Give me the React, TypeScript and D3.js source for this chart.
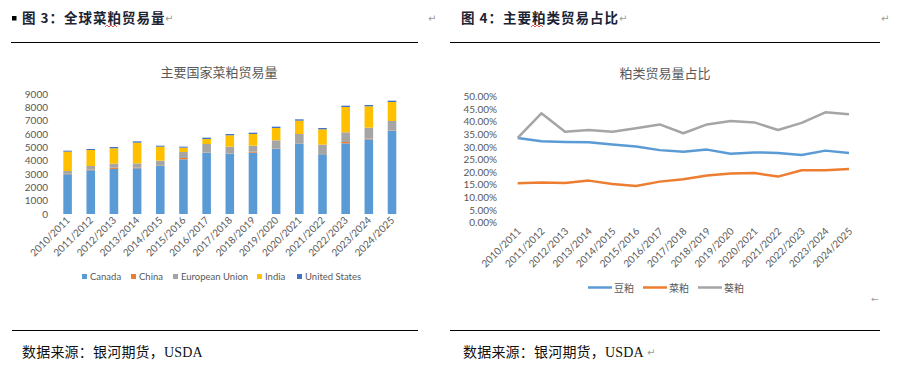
import React from 'react';
import * as d3 from 'd3';

// seasons shared by both charts
const seasons = [
  '2010/2011', '2011/2012', '2012/2013', '2013/2014', '2014/2015',
  '2015/2016', '2016/2017', '2017/2018', '2018/2019', '2019/2020',
  '2020/2021', '2021/2022', '2022/2023', '2023/2024', '2024/2025',
];

// left chart: rapeseed meal trade volume by country (stacked)
const canada = [2980, 3280, 3380, 3430, 3600, 4100, 4600, 4530, 4600, 4880, 5250, 4480, 5300, 5600, 6250];
const china = [30, 50, 100, 50, 20, 100, 20, 20, 75, 20, 20, 20, 100, 50, 20];
const eu = [215, 270, 295, 320, 380, 450, 630, 500, 450, 625, 730, 700, 725, 825, 705];
const india = [1450, 1200, 1150, 1550, 1050, 325, 375, 850, 875, 925, 1000, 1150, 1900, 1600, 1425];
const us = [75, 75, 100, 100, 75, 75, 100, 100, 100, 100, 100, 100, 100, 100, 100];
const countryNames = ['Canada', 'China', 'European Union', 'India', 'United States'];
const countryColors = ['#5B9BD5', '#ED7D31', '#A5A5A5', '#FFC000', '#4472C4'];
const volumeTicks = [0, 1000, 2000, 3000, 4000, 5000, 6000, 7000, 8000, 9000];

// right chart: share of meal trade (%)
const soyMeal = [33.6, 32.3, 32.0, 31.9, 31.0, 30.2, 28.8, 28.2, 29.0, 27.4, 27.9, 27.7, 26.9, 28.6, 27.7];
const rapeMeal = [15.7, 16.0, 15.8, 16.7, 15.4, 14.6, 16.3, 17.2, 18.7, 19.5, 19.7, 18.3, 20.8, 20.8, 21.3];
const sunMeal = [33.7, 43.4, 36.1, 36.8, 36.1, 37.5, 39.0, 35.5, 39.0, 40.4, 39.8, 36.8, 39.6, 43.8, 43.0];
const mealNames = ['豆粕', '菜粕', '葵粕'];
const mealColors = ['#5B9BD5', '#ED7D31', '#A5A5A5'];
const shareTicks = [0, 5, 10, 15, 20, 25, 30, 35, 40, 45, 50];

const axisFont = 'Lato, "Noto Sans", sans-serif';
const cjkFont = '"Noto Sans CJK SC", sans-serif';
const grey = '#595959';

function StackedBars() {
  const x = d3.scaleBand<string>().domain(seasons).range([56, 403.6]).paddingInner(0.63).paddingOuter(0.315);
  const y = d3.scaleLinear().domain([0, 9000]).range([214, 94]);
  const rows = seasons.map((s, i) => ({
    season: s, Canada: canada[i], China: china[i], 'European Union': eu[i], India: india[i], 'United States': us[i],
  }));
  const series = d3.stack<any>().keys(countryNames)(rows);
  const legendX = [82, 131, 173, 257, 297];

  return (
    <g>
      <text x={219} y={77} textAnchor="middle" fontFamily={cjkFont} fontSize={13} fill={grey}>主要国家菜粕贸易量</text>
      {volumeTicks.map(t => (
        <text key={t} x={48} y={y(t) + 3.5} textAnchor="end" fontFamily={axisFont} fontSize={10} fill={grey}>{t}</text>
      ))}
      {series.map((s, si) => (
        <g key={s.key} fill={countryColors[si]}>
          {s.map((d, i) => (
            <rect key={i} x={x(seasons[i])} width={x.bandwidth()} y={y(d[1])} height={Math.max(0, y(d[0]) - y(d[1]))} />
          ))}
        </g>
      ))}
      {seasons.map(s => {
        const cx = (x(s) as number) + x.bandwidth() / 2 + 3;
        return (
          <text key={s} transform={`translate(${cx},${221}) rotate(-45)`} textAnchor="end"
            fontFamily={axisFont} fontSize={10} fill={grey}>{s}</text>
        );
      })}
      {countryNames.map((n, i) => (
        <g key={n}>
          <rect x={legendX[i]} y={274} width={5} height={5} fill={countryColors[i]} />
          <text x={legendX[i] + 8} y={280} fontFamily={axisFont} fontSize={9.5} fill={grey}>{n}</text>
        </g>
      ))}
    </g>
  );
}

function ShareLines() {
  const x = d3.scalePoint<string>().domain(seasons).range([517.7, 849]);
  const y = d3.scaleLinear().domain([0, 50]).range([222.7, 96.7]);
  const line = d3.line<number>().x((_, i) => x(seasons[i]) as number).y(d => y(d));
  const all = [soyMeal, rapeMeal, sunMeal];
  const legendX = [588, 643, 698];

  return (
    <g>
      <text x={665} y={78} textAnchor="middle" fontFamily={cjkFont} fontSize={13} fill={grey}>粕类贸易量占比</text>
      {shareTicks.map(t => (
        <text key={t} x={497} y={y(t) + 3.5} textAnchor="end" fontFamily={axisFont} fontSize={10} fill={grey}>
          {d3.format('.2f')(t)}%
        </text>
      ))}
      {all.map((vals, i) => (
        <path key={i} d={line(vals) ?? ''} fill="none" stroke={mealColors[i]} strokeWidth={2.5} strokeLinejoin="round" />
      ))}
      {seasons.map(s => (
        <text key={s} transform={`translate(${(x(s) as number) + 4},${232}) rotate(-45)`} textAnchor="end"
          fontFamily={axisFont} fontSize={10} fill={grey}>{s}</text>
      ))}
      {mealNames.map((n, i) => (
        <g key={n}>
          <line x1={legendX[i]} x2={legendX[i] + 24} y1={287.5} y2={287.5} stroke={mealColors[i]} strokeWidth={2.5} />
          <text x={legendX[i] + 26} y={291.5} fontFamily={cjkFont} fontSize={10} fill={grey}>{n}</text>
        </g>
      ))}
    </g>
  );
}

function ReturnMark({ x, y }: { x: number; y: number }) {
  return <text x={x} y={y} fontFamily='"DejaVu Sans", sans-serif' fontSize={10} fill="#9a9a9a">↵</text>;
}

export default function App() {
  const headFont = '"Noto Sans CJK SC", serif';
  const footFont = '"Liberation Serif", "Noto Sans CJK SC", serif';
  return (
    <svg width={901} height={374} style={{ position: 'absolute', left: 0, top: 0, background: '#fff' }}>
      <rect width={901} height={374} fill="#fff" />
      {/* page headers */}
      <rect x={12} y={16} width={4.5} height={4.5} fill="#000" />
      <text x={22} y={23} fontFamily={headFont} fontWeight={700} fontSize={13.5} letterSpacing={1} fill="#1c2333">图 3：全球菜粕贸易量</text>
      <path d="M105,27 l2,-2 l2,2 l2,-2 l2,2 l2,-2 l2,2" fill="none" stroke="#e0302a" strokeWidth={0.8} />
      <ReturnMark x={165} y={22} />
      <ReturnMark x={428} y={22} />
      <text x={461} y={23} fontFamily={headFont} fontWeight={700} fontSize={13.5} letterSpacing={1} fill="#1c2333">图 4：主要粕类贸易占比</text>
      <path d="M531,27 l2,-2 l2,2 l2,-2 l2,2 l2,-2 l2,2" fill="none" stroke="#e0302a" strokeWidth={0.8} />
      <ReturnMark x={619} y={22} />
      <ReturnMark x={881} y={22} />
      <line x1={11} x2={418} y1={42.5} y2={42.5} stroke="#000" strokeWidth={1} />
      <line x1={450} x2={880} y1={42.5} y2={42.5} stroke="#000" strokeWidth={1} />

      <StackedBars />
      <ShareLines />

      <text x={871} y={302} fontFamily='"DejaVu Sans", sans-serif' fontSize={9} fill="#9a9a9a">←</text>

      {/* footers */}
      <line x1={12} x2={418} y1={330.5} y2={330.5} stroke="#000" strokeWidth={1} />
      <line x1={450} x2={880} y1={330.5} y2={330.5} stroke="#000" strokeWidth={1} />
      <text x={22} y={357} fontFamily={footFont} fontSize={14} letterSpacing={0.2} fill="#111">数据来源：银河期货，USDA</text>
      <text x={463} y={357} fontFamily={footFont} fontSize={14} letterSpacing={0.2} fill="#111">数据来源：银河期货，USDA</text>
      <ReturnMark x={647} y={356} />
    </svg>
  );
}
